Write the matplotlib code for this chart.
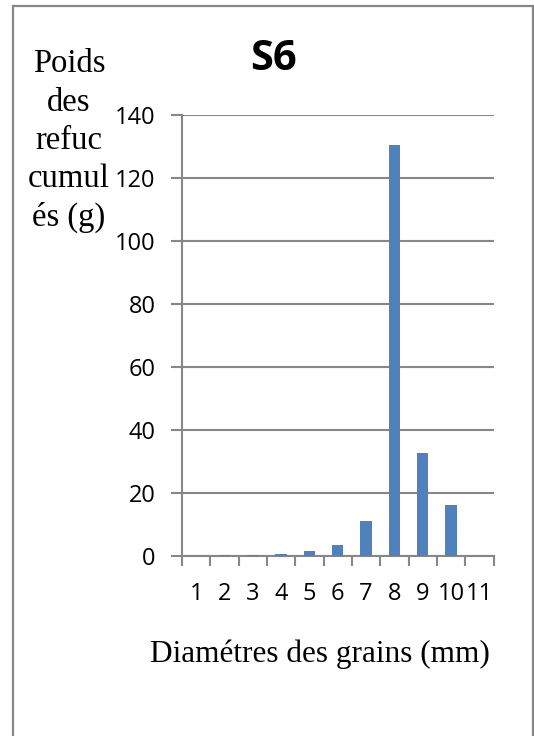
import matplotlib.pyplot as plt
import numpy as np
from matplotlib.patches import Rectangle

# données
categories = ['1', '2', '3', '4', '5', '6', '7', '8', '9', '10', '11']
poids = [0, 0.15, 0.1, 0.6, 1.6, 3.3, 11.0, 130.4, 32.5, 16.0, 0]
y_ticks = [0, 20, 40, 60, 80, 100, 120, 140]

bleu = '#4F81BD'
gris = '#878787'

fig = plt.figure(figsize=(5.34, 7.36), dpi=100)
fig.patch.set_facecolor('white')

# cadre extérieur
fig.patches.append(Rectangle((13 / 534, -0.05), (532.5 - 13) / 534, 1.05 - 5.7 / 736,
                             transform=fig.transFigure, fill=False,
                             edgecolor=gris, linewidth=1.6))

ax = fig.add_axes([182 / 534, 1 - 555.7 / 736, 311.5 / 534, 440.6 / 736])

x = np.arange(len(categories))
ax.bar(x, poids, width=0.4, color=bleu, zorder=3)

ax.set_xlim(-0.5, len(categories) - 0.5)
ax.set_ylim(0, 140)

# grille horizontale
ax.set_yticks(y_ticks)
ax.yaxis.grid(True, color=gris, linewidth=1.5, zorder=0)
ax.set_axisbelow(True)

for s in ['top', 'right']:
    ax.spines[s].set_visible(False)
ax.spines['left'].set_color(gris)
ax.spines['left'].set_linewidth(1.5)
ax.spines['bottom'].set_color(gris)
ax.spines['bottom'].set_linewidth(1.5)

tick_font = {'family': 'Open Sans', 'size': 17}
ax.tick_params(axis='y', direction='out', length=8, width=1.5, color=gris, pad=11)
ax.set_yticklabels([str(v) for v in y_ticks], fontdict=tick_font)

# graduations entre les catégories, étiquettes au centre
ax.set_xticks(np.arange(-0.5, len(categories), 1.0))
ax.set_xticklabels([])
ax.tick_params(axis='x', which='major', direction='out', length=7, width=1.5, color=gris)
ax.set_xticks(x, minor=True)
ax.set_xticklabels(categories, minor=True, fontdict=tick_font)
ax.tick_params(axis='x', which='minor', length=0, pad=19)

# titre et étiquettes des axes
fig.text(273 / 534, 1 - 59 / 736, 'S6', ha='center', va='center',
         family='Open Sans', weight='bold', size=30)
fig.text(69 / 534, 1 - 141 / 736, 'Poids\ndes\nrefuc\ncumul\nés (g)', ha='center', va='center',
         multialignment='center', family='Liberation Serif', size=23.5, linespacing=1.33)
fig.text(320 / 534, 1 - 654 / 736, 'Diamétres des grains (mm)', ha='center', va='center',
         family='Liberation Serif', size=22.5)

fig.savefig('out.png', dpi=100, facecolor='white')
